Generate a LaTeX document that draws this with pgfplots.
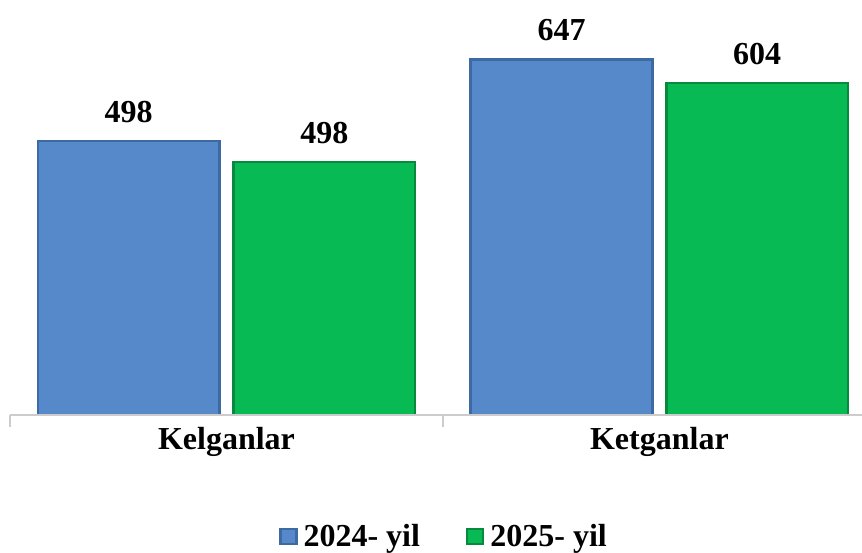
\documentclass[border=0pt]{standalone}
\usepackage{pgfplots}
\pgfplotsset{compat=1.18}
\usepackage{fontspec}
\setmainfont{Liberation Serif}
\definecolor{cblue}{HTML}{5689C9}
\definecolor{cbluedark}{HTML}{3E6AA3}
\definecolor{cgreen}{HTML}{08BA54}
\definecolor{cgreendark}{HTML}{068A3E}
\begin{document}
\begin{tikzpicture}
\begin{axis}[
  scale only axis,
  width=426pt, height=207.5pt,
  xmin=-0.5, xmax=1.468,
  ymin=0, ymax=755,
  axis lines=none,
  clip=false,
  ybar=0pt,
  bar width=0.42,
  xtick={0,1},
  xticklabels={Kelganlar,Ketganlar},
  ytick=\empty,
  point meta=explicit symbolic,
  nodes near coords,
  every node near coord/.append style={anchor=base, yshift=9.5pt, font=\fontsize{16}{19}\selectfont\bfseries, black},
  legend style={at={(rel axis cs:0.5,0)}, anchor=center, xshift=4.5pt, yshift=-61pt, draw=none, fill=none,
    legend columns=2, font=\fontsize{16}{19}\selectfont\bfseries,
    /tikz/every odd column/.append style={column sep=1pt},
    /tikz/every even column/.append style={column sep=21pt}},
  legend image code/.code={\fill[#1] (0pt,-3.6pt) rectangle (8pt,3.9pt);},
]
\addplot[fill=cblue, draw=cbluedark, line width=1.2pt, bar shift=-0.226] coordinates {(0,498) [498] (1,647) [647]};
\addplot[fill=cgreen, draw=cgreendark, line width=1.2pt, bar shift=0.226] coordinates {(0,460) [498] (1,604) [604]};
\legend{2024- yil, 2025- yil}
\draw[gray!40, line width=0.6pt] (axis cs:-0.5,0) -- (axis cs:1.468,0);
\draw[gray!40, line width=0.6pt] (axis cs:-0.5,0) -- ([yshift=-6pt]axis cs:-0.5,0);
\draw[gray!40, line width=0.6pt] (axis cs:0.5,0) -- ([yshift=-6pt]axis cs:0.5,0);
\node[anchor=base, font=\fontsize{16}{19}\selectfont\bfseries] at ([yshift=-17pt]axis cs:0,0) {Kelganlar};
\node[anchor=base, font=\fontsize{16}{19}\selectfont\bfseries] at ([yshift=-17pt]axis cs:1,0) {Ketganlar};
\end{axis}
\pgfresetboundingbox
\path[use as bounding box] (-5pt,-68.5pt) rectangle (426pt,207.5pt);
\end{tikzpicture}
\end{document}
